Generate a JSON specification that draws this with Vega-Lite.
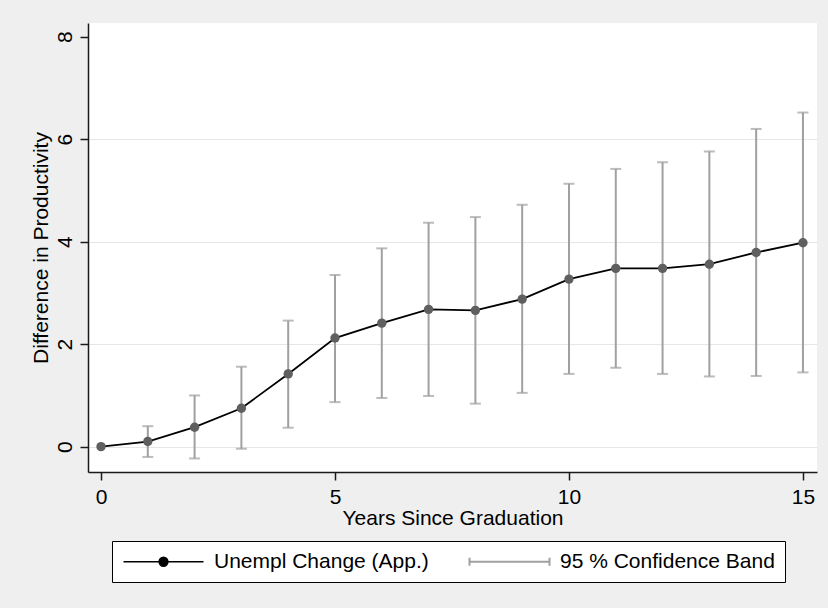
{
  "$schema": "https://vega.github.io/schema/vega-lite/v6.json",
  "width": 729,
  "height": 449,
  "autosize": {"type": "none"},
  "padding": {"left": 88, "top": 23, "right": 11, "bottom": 136},
  "background": "#efefef",
  "config": {
    "font": "Liberation Sans",
    "view": {"fill": "white", "stroke": null},
    "axis": {
      "domainColor": "#1a1a1a",
      "domainWidth": 1.5,
      "tickColor": "#1a1a1a",
      "tickWidth": 1.5,
      "tickSize": 8,
      "labelFont": "Liberation Sans",
      "labelFontSize": 21,
      "labelColor": "black",
      "titleFont": "Liberation Sans",
      "titleFontSize": 21,
      "titleFontWeight": "normal",
      "titleColor": "black",
      "gridColor": "#e6e6e6",
      "gridWidth": 1.2
    }
  },
  "data": {
    "values": [
      {"year": 0, "est": 0.0, "lo": null, "hi": null},
      {"year": 1, "est": 0.10, "lo": -0.20, "hi": 0.40},
      {"year": 2, "est": 0.38, "lo": -0.23, "hi": 1.00},
      {"year": 3, "est": 0.75, "lo": -0.04, "hi": 1.56},
      {"year": 4, "est": 1.42, "lo": 0.37, "hi": 2.46},
      {"year": 5, "est": 2.12, "lo": 0.87, "hi": 3.35},
      {"year": 6, "est": 2.41, "lo": 0.95, "hi": 3.87},
      {"year": 7, "est": 2.68, "lo": 0.99, "hi": 4.37},
      {"year": 8, "est": 2.66, "lo": 0.84, "hi": 4.48},
      {"year": 9, "est": 2.88, "lo": 1.05, "hi": 4.72},
      {"year": 10, "est": 3.27, "lo": 1.42, "hi": 5.13},
      {"year": 11, "est": 3.48, "lo": 1.54, "hi": 5.42},
      {"year": 12, "est": 3.48, "lo": 1.42, "hi": 5.55},
      {"year": 13, "est": 3.56, "lo": 1.37, "hi": 5.76},
      {"year": 14, "est": 3.79, "lo": 1.38, "hi": 6.20},
      {"year": 15, "est": 3.98, "lo": 1.45, "hi": 6.52}
    ]
  },
  "resolve": {"axis": {"y": "independent"}},
  "layer": [
    {
      "transform": [{"filter": "isValid(datum.lo)"}],
      "mark": {
        "type": "errorbar",
        "ticks": {"size": 11, "thickness": 2},
        "rule": {"strokeWidth": 2},
        "thickness": 2
      },
      "encoding": {
        "x": {
          "field": "year", "type": "quantitative",
          "scale": {"domain": [-0.278, 15.3], "nice": false, "zero": false},
          "axis": {"values": [0, 5, 10, 15], "grid": false, "title": "Years Since Graduation", "labelPadding": 23, "labelBaseline": "alphabetic", "labelFlush": false, "titleY": 52, "titleBaseline": "alphabetic"}
        },
        "y": {
          "field": "lo", "type": "quantitative",
          "scale": {"domain": [-0.494, 8.267], "nice": false, "zero": false},
          "axis": {"orient": "left", "values": [0, 2, 4, 6], "grid": true, "labels": false, "ticks": false, "domain": false, "title": null}
        },
        "y2": {"field": "hi"},
        "color": {
          "datum": "95 % Confidence Band",
          "scale": {"domain": ["Unempl Change (App.)", "95 % Confidence Band"], "range": ["#000000", "#a0a0a0"]},
          "legend": {
            "orient": "none", "legendX": 24, "legendY": 518, "direction": "horizontal", "title": null,
            "fillColor": "white", "strokeColor": "black", "padding": 10,
            "labelFont": "Liberation Sans", "labelFontSize": 21, "labelColor": "black", "labelLimit": 400,
            "symbolSize": 6400, "symbolOffset": 31, "labelOffset": 40, "columnPadding": 36, "symbolStrokeWidth": 1.5,
            "encode": {
              "symbols": {
                "update": {
                  "shape": {"signal": "datum.value === 'Unempl Change (App.)' ? 'M-1,0H1M0.11,0A0.11,0.11,0,1,1,-0.11,0A0.11,0.11,0,1,1,0.11,0Z' : 'M-1,0H1M-1,-0.1V0.1M1,-0.1V0.1'"},
                  "fill": {"value": "#5f5f5f"},
                  "fillOpacity": {"value": 1},
                  "strokeWidth": {"signal": "datum.value === 'Unempl Change (App.)' ? 1.5 : 2"}
                }
              }
            }
          }
        }
      }
    },
    {
      "mark": {"type": "line", "strokeWidth": 1.8},
      "encoding": {
        "x": {
          "field": "year", "type": "quantitative",
          "scale": {"domain": [-0.278, 15.3], "nice": false, "zero": false},
          "axis": {"values": [0, 5, 10, 15], "grid": false, "title": "Years Since Graduation", "labelPadding": 23, "labelBaseline": "alphabetic", "labelFlush": false, "titleY": 52, "titleBaseline": "alphabetic"}
        },
        "y": {
          "field": "est", "type": "quantitative",
          "scale": {"domain": [-0.494, 8.267], "nice": false, "zero": false},
          "axis": {"orient": "left", "values": [0, 2, 4, 6, 8], "grid": false, "title": "Difference in Productivity", "labelAngle": 270, "labelAlign": "center", "labelBaseline": "alphabetic", "labelPadding": 8.5, "titleAngle": 270, "titleAlign": "center", "titleBaseline": "alphabetic", "titleX": -41, "titleY": 224.5}
        },
        "color": {
          "datum": "Unempl Change (App.)",
          "scale": {"domain": ["Unempl Change (App.)", "95 % Confidence Band"], "range": ["#000000", "#a0a0a0"]}
        }
      }
    },
    {
      "mark": {"type": "circle", "size": 88, "color": "#5f5f5f", "opacity": 1},
      "encoding": {
        "x": {
          "field": "year", "type": "quantitative",
          "scale": {"domain": [-0.278, 15.3], "nice": false, "zero": false},
          "axis": {"values": [0, 5, 10, 15], "grid": false, "title": "Years Since Graduation", "labelPadding": 23, "labelBaseline": "alphabetic", "labelFlush": false, "titleY": 52, "titleBaseline": "alphabetic"}
        },
        "y": {
          "field": "est", "type": "quantitative",
          "scale": {"domain": [-0.494, 8.267], "nice": false, "zero": false},
          "axis": null
        }
      }
    }
  ]
}
